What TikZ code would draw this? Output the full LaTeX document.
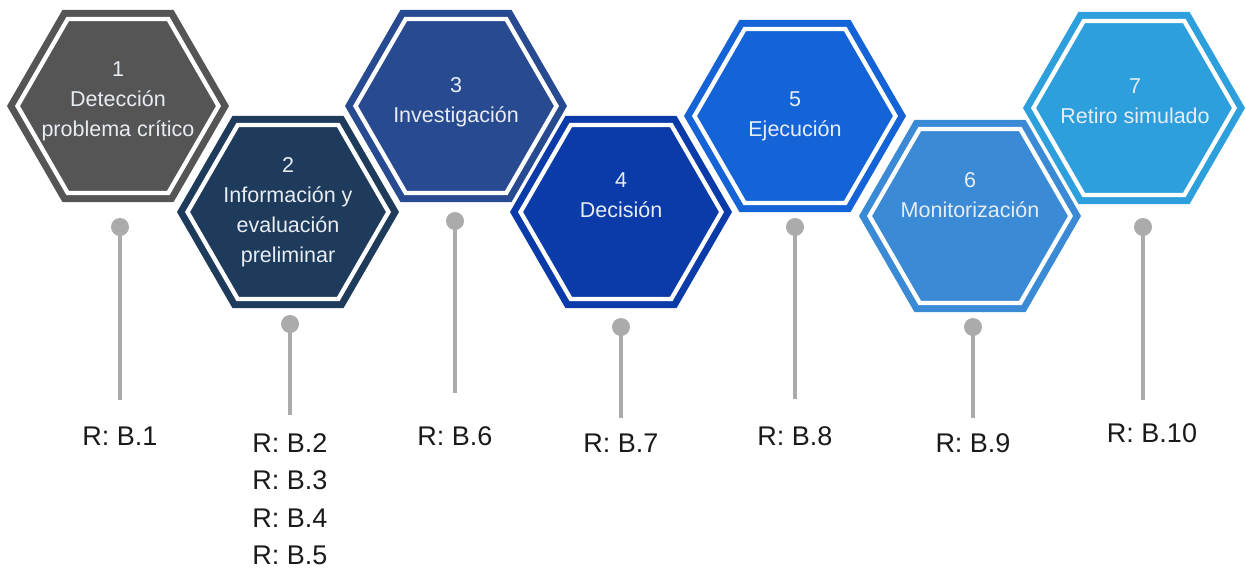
\documentclass[tikz,border=0pt]{standalone}
\usepackage{fontspec}
\setmainfont{Liberation Sans}
\definecolor{stepA}{HTML}{555555}
\definecolor{stepB}{HTML}{1F3B5C}
\definecolor{stepC}{HTML}{284A91}
\definecolor{stepD}{HTML}{0A3BA8}
\definecolor{stepE}{HTML}{1464D8}
\definecolor{stepF}{HTML}{3A8AD6}
\definecolor{stepG}{HTML}{2C9FDC}
\definecolor{hextxt}{HTML}{E8EDF3}
\definecolor{labeltxt}{HTML}{1A1A1A}
\definecolor{stemgray}{HTML}{ABABAB}
% one hexagonal cell: coloured body with an inset white outline
\newcommand\hexcell[2]{%
  \fill[#2] (#1) +(0:111) -- +(60:111) -- +(120:111) -- +(180:111) -- +(240:111) -- +(300:111) -- cycle;
  \draw[hexline] (#1) +(0:100.5) -- +(60:100.5) -- +(120:100.5) -- +(180:100.5) -- +(240:100.5) -- +(300:100.5) -- cycle;}
\begin{document}
\begin{tikzpicture}[x=1pt,y=-1pt,
  hexline/.style={draw=white,line width=4.3pt,line join=miter},
  hextext/.style={text=hextxt,align=center,font=\fontsize{21.5}{30}\selectfont},
  reflabel/.style={text=labeltxt,align=center,font=\fontsize{27}{37.5}\selectfont,inner sep=0pt},
  dot/.style={circle,fill=stemgray,minimum size=18pt,inner sep=0pt},
  stem/.style={draw=stemgray,line width=4pt}]
\fill[white] (0,0) rectangle (1246,570);
\useasboundingbox (0,0) rectangle (1246,570);

% centres of the seven cells
\coordinate (h1) at (118,106);
\coordinate (h2) at (288,212);
\coordinate (h3) at (456,106);
\coordinate (h4) at (621,212);
\coordinate (h5) at (795,116);
\coordinate (h6) at (970,216);
\coordinate (h7) at (1134,108);

\hexcell{h1}{stepA}
\hexcell{h2}{stepB}
\hexcell{h3}{stepC}
\hexcell{h4}{stepD}
\hexcell{h5}{stepE}
\hexcell{h6}{stepF}
\hexcell{h7}{stepG}

% step titles
\node[hextext] (t1) at (118,101) {1\\Detección\\problema crítico};
\node[hextext] (t2) at (288,212) {2\\Información y\\evaluación\\preliminar};
\node[hextext] (t3) at (456,102) {3\\Investigación};
\node[hextext] (t4) at (621,195) {4\\Decisión};
\node[hextext] (t5) at (795,116) {5\\Ejecución};
\node[hextext] (t6) at (970,195) {6\\Monitorización};
\node[hextext] (t7) at (1135,101) {7\\Retiro simulado};

% stems with a dot on top
\node[dot] (d1) at (120,227) {};
\node[dot] (d2) at (290,324) {};
\node[dot] (d3) at (455,221) {};
\node[dot] (d4) at (621,327) {};
\node[dot] (d5) at (795,227) {};
\node[dot] (d6) at (973,327) {};
\node[dot] (d7) at (1143,227) {};
\coordinate (e1) at (120,400);
\coordinate (e2) at (290,415);
\coordinate (e3) at (455,393);
\coordinate (e4) at (621,418);
\coordinate (e5) at (795,399);
\coordinate (e6) at (973,418);
\coordinate (e7) at (1143,400);
\foreach \i in {1,...,7}{\draw[stem] (d\i.center) -- (e\i);}

% references
\node[reflabel] (r1) at (120,436) {R: B.1};
\node[reflabel] (r2) at (290,499) {R: B.2\\R: B.3\\R: B.4\\R: B.5};
\node[reflabel] (r3) at (455,436) {R: B.6};
\node[reflabel] (r4) at (621,443) {R: B.7};
\node[reflabel] (r5) at (795,436) {R: B.8};
\node[reflabel] (r6) at (973,443) {R: B.9};
\node[reflabel] (r7) at (1152,433) {R: B.10};
\end{tikzpicture}
\end{document}
